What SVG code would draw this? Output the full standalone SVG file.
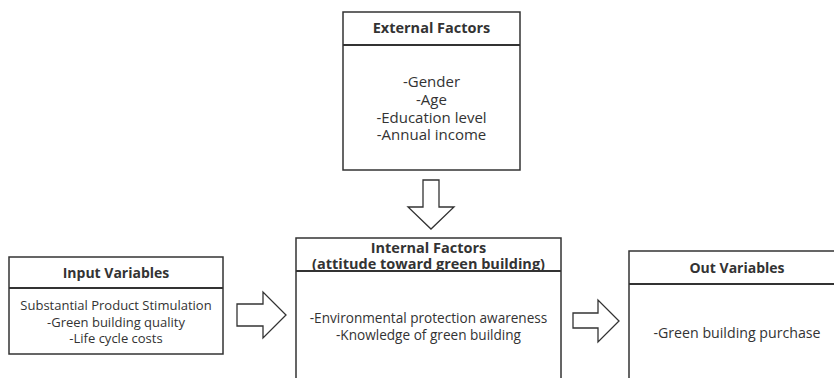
<svg xmlns="http://www.w3.org/2000/svg" width="834" height="378" viewBox="0 0 834 378">
<style>
.box{fill:#fff;stroke:#333;stroke-width:1.5}
.hl{stroke:#333;stroke-width:2}
.t{font-family:"Open Sans","Noto Sans",sans-serif;fill:#333;text-anchor:middle}
.b{font-weight:bold;font-size:14px}
.r{font-size:13px}
.arr{fill:#fff;stroke:#333;stroke-width:1.3;stroke-linejoin:miter}
</style>
<rect width="834" height="378" fill="#fff"/>
<g id="external">
<rect class="box" x="343" y="12" width="177" height="158"/>
<line class="hl" x1="343" y1="45" x2="520" y2="45"/>
<text class="t b" x="431.5" y="33" style="font-size:14.5px">External Factors</text>
<text class="t" x="431.5" y="87" style="font-size:15px">-Gender</text>
<text class="t" x="431.5" y="105" style="font-size:15px">-Age</text>
<text class="t" x="431.5" y="123" style="font-size:15px">-Education level</text>
<text class="t" x="431.5" y="140" style="font-size:15px">-Annual income</text>
</g>
<g id="input">
<rect class="box" x="9" y="257" width="214" height="97"/>
<line class="hl" x1="9" y1="288" x2="223" y2="288"/>
<text class="t b" x="116" y="278">Input Variables</text>
<text class="t r" x="116" y="310">Substantial Product Stimulation</text>
<text class="t r" x="116" y="327">-Green building quality</text>
<text class="t r" x="116" y="343">-Life cycle costs</text>
</g>
<g id="internal">
<rect class="box" x="296" y="238" width="265" height="150"/>
<line class="hl" x1="296" y1="271" x2="561" y2="271"/>
<text class="t b" x="428.5" y="253" style="font-size:14.5px">Internal Factors</text>
<text class="t b" x="428.5" y="269" style="font-size:14.5px">(attitude toward green building)</text>
<text class="t" x="428.5" y="323" style="font-size:13.6px">-Environmental protection awareness</text>
<text class="t" x="428.5" y="340" style="font-size:13.6px">-Knowledge of green building</text>
</g>
<g id="output">
<rect class="box" x="629" y="251" width="220" height="140"/>
<line class="hl" x1="629" y1="284" x2="849" y2="284"/>
<text class="t b" x="737" y="273">Out Variables</text>
<text class="t" x="737" y="338" style="font-size:14.2px">-Green building purchase</text>
</g>
<g id="connectors">
<polygon class="arr" points="423,180 439,180 439,207 454,207 431,229 408,207 423,207"/>
<polygon class="arr" points="237,304 263,304 263,292 286,315 263,338 263,326 237,326"/>
<polygon class="arr" points="573,313 598,313 598,300 619,321 598,342 598,328 573,328"/>
</g>
</svg>
